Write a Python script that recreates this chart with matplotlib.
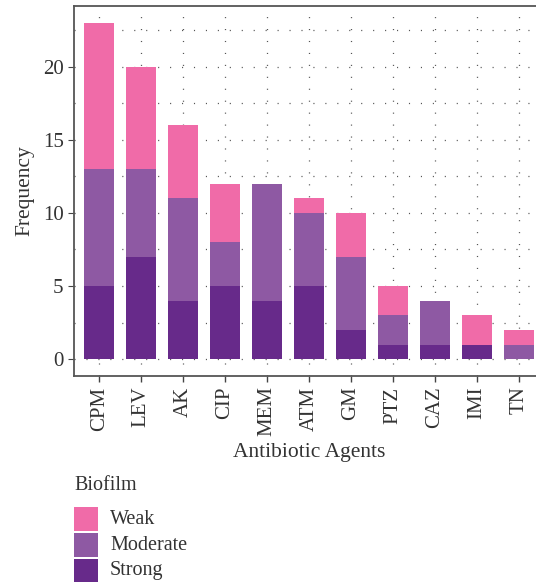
import matplotlib
matplotlib.use("Agg")
import matplotlib.pyplot as plt
import matplotlib.patches as mpatches
import numpy as np

agents = ['CPM', 'LEV', 'AK', 'CIP', 'MEM', 'ATM', 'GM', 'PTZ', 'CAZ', 'IMI', 'TN']
strong = [5, 7, 4, 5, 4, 5, 2, 1, 1, 1, 0]
moderate = [8, 6, 7, 3, 8, 5, 5, 2, 3, 0, 1]
weak = [10, 7, 5, 4, 0, 1, 3, 2, 0, 2, 1]

levels = ['Weak', 'Moderate', 'Strong']
col_weak = '#f06ba8'
col_mod = '#8e59a3'
col_strong = '#672a8a'

plt.rcParams['font.family'] = ['Liberation Serif', 'DejaVu Serif']
plt.rcParams['lines.scale_dashes'] = False
txt = '#333333'

W, H = 536, 582
fig = plt.figure(figsize=(W/100, H/100), dpi=100)
ax = fig.add_axes([74/W, (H-376)/H, (544-74)/W, (376-6)/H])

x = np.arange(len(agents))
s = np.array(strong)
m = np.array(moderate)
w = np.array(weak)
ax.bar(x, s, width=0.72, color=col_strong, zorder=3)
ax.bar(x, m, width=0.72, bottom=s, color=col_mod, zorder=3)
ax.bar(x, w, width=0.72, bottom=s + m, color=col_weak, zorder=3)

ax.set_xlim(-0.6, len(agents) - 0.4)
ax.set_ylim(-1.15, 24.15)
ax.set_yticks([0, 5, 10, 15, 20])
ax.set_yticks(np.arange(2.5, 24, 5), minor=True)
ax.set_xticks(x)
ax.set_xticklabels(agents, rotation=90, fontsize=15, color=txt)
ax.tick_params(axis='y', labelsize=15, labelcolor=txt, length=4, width=0.8, color='#444444')
ax.tick_params(axis='x', length=4, width=1.0, color='#444444')
ax.tick_params(axis='y', which='minor', length=0)

# sparse dotted grid
dots = (0, (0.8, 7.8))
ax.grid(True, which='major', axis='both', color='#555555', linestyle=dots, linewidth=0.9, zorder=0)
ax.grid(True, which='minor', axis='y', color='#555555', linestyle=dots, linewidth=0.9, zorder=0)
ax.set_axisbelow(True)

for sp in ax.spines.values():
    sp.set_color('#555555')
    sp.set_linewidth(1.3)

ax.set_xlabel('Antibiotic Agents', fontsize=15.5, color=txt, labelpad=5)
ax.set_ylabel('Frequency', fontsize=15.5, color=txt, labelpad=6)

# legend below the panel, drawn by hand (ggplot style keys)
fig.text(74/W, 1 - 486/H, 'Biofilm', fontsize=14.5, color=txt, ha='left', va='center')
key_top = [507, 533, 559]
for lab, col, yt in zip(levels, [col_weak, col_mod, col_strong], key_top):
    fig.patches.append(mpatches.Rectangle((74/W, 1 - (yt + 24)/H), 24/W, 24/H,
                                          facecolor=col, edgecolor='none',
                                          transform=fig.transFigure, figure=fig))
    fig.text(110/W, 1 - (yt + 12)/H, lab, fontsize=14.5, color=txt, ha='left', va='center')

fig.savefig('out.png', dpi=100)
